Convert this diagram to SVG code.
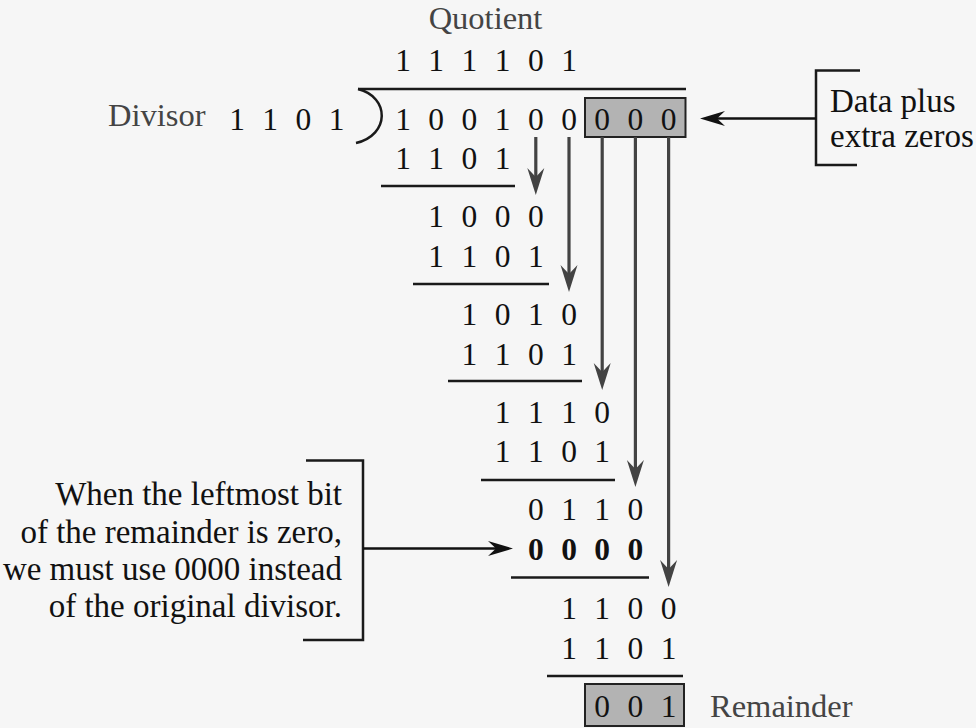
<svg xmlns="http://www.w3.org/2000/svg" width="976" height="728" viewBox="0 0 976 728">
  <style>
    .dig { font-family: "Liberation Serif", "Times New Roman", serif; font-size: 31.5px; fill: #111; text-anchor: middle; }
    .bold { font-weight: bold; }
    .lbl { font-family: "Liberation Serif", "Times New Roman", serif; font-size: 32.5px; fill: #444; }
    .note { font-family: "Liberation Serif", "Times New Roman", serif; font-size: 33px; fill: #111; }
    .rule { stroke: #1a1a1a; stroke-width: 2.5; fill: none; }
    .box { fill: #b3b3b3; stroke: #222; stroke-width: 2; }
    .flow { stroke: #434343; stroke-width: 3.2; fill: none; marker-end: url(#headGray); }
    .point { stroke: #111; stroke-width: 2.5; fill: none; marker-end: url(#headBlack); }
  </style>
  <defs>
    <marker id="headGray" markerUnits="userSpaceOnUse" viewBox="-28 -10 30 20" markerWidth="30" markerHeight="20" refX="-17" refY="0" orient="auto">
      <path d="M0,0 L-27,-8.5 L-18,0 L-27,8.5 Z" fill="#434343"/>
    </marker>
    <marker id="headBlack" markerUnits="userSpaceOnUse" viewBox="-28 -10 30 20" markerWidth="30" markerHeight="20" refX="-16" refY="0" orient="auto">
      <path d="M0,0 L-25,-7.5 L-17,0 L-25,7.5 Z" fill="#111"/>
    </marker>
  </defs>
  <rect x="0" y="0" width="976" height="728" fill="#f6f6f6"/>

  <g id="quotient">
    <text class="lbl" x="485.5" y="29" text-anchor="middle">Quotient</text>
    <text class="dig" x="403 436.2 469.4 502.6 535.8 569" y="71">111101</text>
  </g>

  <g id="divisor">
    <text class="lbl" x="108" y="126">Divisor</text>
    <text class="dig" x="237 270.2 303.4 336.6" y="130">1101</text>
  </g>

  <g id="division-bracket">
    <line class="rule" x1="358" y1="89" x2="686" y2="89"/>
    <path class="rule" d="M358,89 C390,97 390,135 356,143"/>
  </g>

  <g id="dividend">
    <rect class="box" x="585" y="98" width="100.5" height="39"/>
    <text class="dig" x="403 436.2 469.4 502.6 535.8 569 602.2 635.4 668.6" y="130">100100000</text>
  </g>

  <g id="step1">
    <text class="dig" x="403 436.2 469.4 502.6" y="169">1101</text>
    <line class="rule" x1="381" y1="186" x2="515" y2="186"/>
  </g>
  <g id="step2">
    <text class="dig" x="436.2 469.4 502.6 535.8" y="227">1000</text>
    <text class="dig" x="436.2 469.4 502.6 535.8" y="267">1101</text>
    <line class="rule" x1="413" y1="284" x2="549" y2="284"/>
  </g>
  <g id="step3">
    <text class="dig" x="469.4 502.6 535.8 569" y="325">1010</text>
    <text class="dig" x="469.4 502.6 535.8 569" y="365">1101</text>
    <line class="rule" x1="448" y1="381" x2="582" y2="381"/>
  </g>
  <g id="step4">
    <text class="dig" x="502.6 535.8 569 602.2" y="423">1110</text>
    <text class="dig" x="502.6 535.8 569 602.2" y="462">1101</text>
    <line class="rule" x1="481" y1="480" x2="615" y2="480"/>
  </g>
  <g id="step5">
    <text class="dig" x="535.8 569 602.2 635.4" y="520">0110</text>
    <text class="dig bold" x="535.8 569 602.2 635.4" y="560">0000</text>
    <line class="rule" x1="511" y1="577.5" x2="649" y2="577.5"/>
  </g>
  <g id="step6">
    <text class="dig" x="569 602.2 635.4 668.6" y="619">1100</text>
    <text class="dig" x="569 602.2 635.4 668.6" y="659">1101</text>
    <line class="rule" x1="547" y1="676" x2="683" y2="676"/>
  </g>

  <g id="remainder">
    <rect class="box" x="585" y="684" width="99" height="42"/>
    <text class="dig" x="602.2 635.4 668.6" y="717">001</text>
    <text class="lbl" x="710" y="717">Remainder</text>
  </g>

  <g id="data-note">
    <path class="rule" d="M860,70.5 L816,70.5 L816,165 L857,165"/>
    <text class="note" x="830" y="112">Data plus</text>
    <text class="note" x="830" y="147">extra zeros</text>
  </g>

  <g id="zero-note">
    <path class="rule" d="M306,460.5 L363,460.5 L363,640 L303,640"/>
    <text class="note" x="342" y="505" text-anchor="end">When the leftmost bit</text>
    <text class="note" x="342" y="542.5" text-anchor="end">of the remainder is zero,</text>
    <text class="note" x="342" y="580" text-anchor="end">we must use 0000 instead</text>
    <text class="note" x="342" y="617" text-anchor="end">of the original divisor.</text>
  </g>

  <g id="connectors">
    <line class="flow" x1="535.8" y1="137" x2="535.8" y2="178"/>
    <line class="flow" x1="569" y1="137" x2="569" y2="275"/>
    <line class="flow" x1="602.2" y1="137" x2="602.2" y2="373"/>
    <line class="flow" x1="635.4" y1="137" x2="635.4" y2="470"/>
    <line class="flow" x1="668.6" y1="137" x2="668.6" y2="570"/>
    <line class="point" x1="816" y1="118.5" x2="716" y2="118.5"/>
    <line class="point" x1="363" y1="548.5" x2="497" y2="548.5"/>
  </g>
</svg>
